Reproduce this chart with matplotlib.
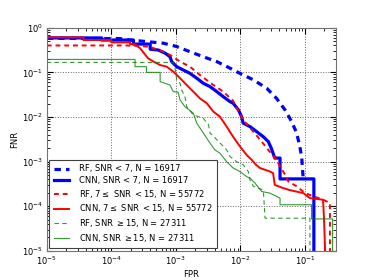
import matplotlib
matplotlib.use('Agg')
import matplotlib.pyplot as plt

# curve points (FPR, FNR)
rf_low_fpr = [1e-5, 1.36e-4, 1.95e-4, 4.0e-4, 6.4e-4, 1.02e-3, 1.65e-3, 2.65e-3,
              4.3e-3, 6.9e-3, 9.8e-3, 0.0158, 0.0255, 0.0363, 0.049, 0.062,
              0.074, 0.083, 0.089, 0.093]
rf_low_fnr = [0.58, 0.57, 0.53, 0.48, 0.45, 0.38, 0.29, 0.224,
              0.174, 0.124, 0.095, 0.068, 0.044, 0.026, 0.0144, 0.0079,
              0.0044, 0.0022, 0.0012, 4.7e-4]

cnn_low_fpr = [1e-5, 7.1e-5, 7.1e-5, 2.2e-4, 2.2e-4, 4.0e-4, 4.0e-4, 5.3e-4,
               6.8e-4, 8.1e-4, 8.6e-4, 1.03e-3, 1.3e-3, 1.65e-3, 2.1e-3,
               2.65e-3, 3.37e-3, 4.3e-3, 5.4e-3, 6.9e-3, 7.7e-3, 9.3e-3,
               0.0104, 0.011, 0.014, 0.0178, 0.0226, 0.027, 0.030, 0.034,
               0.041, 0.041, 0.137, 0.137]
cnn_low_fnr = [0.59, 0.59, 0.53, 0.53, 0.43, 0.43, 0.33, 0.317,
               0.27, 0.224, 0.174, 0.134, 0.113, 0.095, 0.074,
               0.057, 0.048, 0.037, 0.0286, 0.022, 0.0204, 0.0144,
               0.0102, 0.0073, 0.0061, 0.0047, 0.0036, 0.0028, 0.0020, 0.0012,
               0.0012, 4.1e-4, 4.1e-4, 1e-6]

rf_mid_fpr = [1e-5, 1.75e-4, 2.8e-4, 4.0e-4, 6.4e-4, 8.1e-4, 1.16e-3, 1.65e-3,
              2.36e-3, 3.8e-3, 5.4e-3, 7.7e-3, 0.011, 0.0158, 0.0213, 0.0286,
              0.036, 0.041, 0.049, 0.055, 0.074, 0.100, 0.137, 0.19, 0.243,
              0.243]
rf_mid_fnr = [0.40, 0.40, 0.39, 0.37, 0.29, 0.245, 0.174, 0.134,
              0.087, 0.052, 0.037, 0.023, 0.0086, 0.0047, 0.0028, 0.00165,
              0.0011, 7.8e-4, 5.1e-4, 3.6e-4, 2.8e-4, 1.97e-4, 1.66e-4, 1.40e-4,
              1.18e-4, 1e-6]

cnn_mid_fpr = [1e-5, 3.7e-5, 3.7e-5, 1.0e-4, 1.0e-4, 1.95e-4, 1.95e-4, 2.3e-4,
               2.8e-4, 3.7e-4, 4.5e-4, 5.7e-4, 7.2e-4, 9.1e-4, 1.16e-3, 1.47e-3,
               1.86e-3, 2.36e-3, 3.0e-3, 3.8e-3, 4.8e-3, 6.1e-3, 7.7e-3, 9.8e-3,
               0.0125, 0.0149, 0.0174, 0.020, 0.0286, 0.032, 0.034, 0.046,
               0.058, 0.094, 0.119, 0.19, 0.197, 0.216]
cnn_mid_fnr = [0.61, 0.61, 0.53, 0.53, 0.47, 0.47, 0.43, 0.43,
               0.345, 0.207, 0.174, 0.146, 0.134, 0.104, 0.074, 0.052,
               0.037, 0.026, 0.0204, 0.0132, 0.0102, 0.0061, 0.0036, 0.0022,
               0.0014, 0.0011, 8.5e-4, 7.2e-4, 6.0e-4, 5.5e-4, 3.0e-4, 2.55e-4,
               2.3e-4, 1.97e-4, 1.52e-4, 1.40e-4, 5.0e-5, 1e-6]

rf_high_fpr = [1e-5, 9.1e-4, 9.7e-4, 1.03e-3, 1.16e-3, 1.23e-3, 1.38e-3, 1.47e-3,
               1.86e-3, 2.65e-3, 3.2e-3, 3.37e-3, 4.3e-3, 6.1e-3, 6.9e-3,
               8.7e-3, 0.011, 0.0132, 0.014, 0.0158, 0.0226, 0.024, 0.119, 0.119]
rf_high_fnr = [0.167, 0.167, 0.124, 0.068, 0.057, 0.040, 0.0286, 0.017,
               0.0111, 0.0094, 0.0067, 0.0044, 0.0031, 0.00184, 0.0013,
               0.001, 8.5e-4, 6.0e-4, 3.9e-4, 2.8e-4, 2.3e-4, 5.4e-5, 5.4e-5, 1e-6]

cnn_high_fpr = [1e-5, 2.33e-4, 2.33e-4, 3.5e-4, 3.5e-4, 5.7e-4, 5.7e-4, 8.1e-4,
                9.1e-4, 1.08e-3, 1.16e-3, 1.38e-3, 1.86e-3, 2.1e-3, 2.65e-3,
                3.37e-3, 4.0e-3, 4.8e-3, 6.1e-3, 7.7e-3, 9.8e-3, 0.0125, 0.014,
                0.0168, 0.0213, 0.0286, 0.041, 0.041, 0.126, 0.126, 0.267, 0.267]
cnn_high_fnr = [0.195, 0.195, 0.134, 0.134, 0.100, 0.100, 0.062, 0.052,
                0.037, 0.036, 0.024, 0.017, 0.0122, 0.0073, 0.0044,
                0.0026, 0.00184, 0.00155, 0.001, 7.2e-4, 6.0e-4, 4.6e-4, 4.3e-4,
                3.3e-4, 2.14e-4, 1.97e-4, 1.52e-4, 1.08e-4, 1.08e-4, 5.2e-5, 5.2e-5, 1e-6]

labels = ['RF, SNR < 7, N = 16917',
          'CNN, SNR < 7, N = 16917',
          r'RF, 7$\leq$ SNR $<$15, N = 55772',
          r'CNN, 7$\leq$ SNR $<$15, N = 55772',
          r'RF, SNR $\geq$15, N = 27311',
          r'CNN, SNR $\geq$15, N = 27311']

plt.rcParams['font.size'] = 6

fig = plt.figure(figsize=(3.74, 2.8), dpi=100)
ax = fig.add_axes([0.125, 0.104, 0.773, 0.797])

ax.plot(rf_low_fpr, rf_low_fnr, color='blue', ls=(0, (2, 1.6)), lw=2.3, label=labels[0])
ax.plot(cnn_low_fpr, cnn_low_fnr, color='blue', lw=2.3, label=labels[1])
ax.plot(rf_mid_fpr, rf_mid_fnr, color='red', ls=(0, (2.5, 2)), lw=1.4, label=labels[2])
ax.plot(cnn_mid_fpr, cnn_mid_fnr, color='red', lw=1.4, label=labels[3])
ax.plot(rf_high_fpr, rf_high_fnr, color='green', ls=(0, (4, 3)), lw=0.8, alpha=0.8, label=labels[4])
ax.plot(cnn_high_fpr, cnn_high_fnr, color='green', lw=0.8, alpha=0.8, label=labels[5])

ax.set_xscale('log')
ax.set_yscale('log')
ax.set_xlim(1e-5, 0.3)
ax.set_ylim(1e-5, 1)
ax.grid(True, which='major', ls=':', color='0.4', lw=0.7)
ax.tick_params(which='both', direction='in', top=True, right=True, labelsize=6, pad=2.5)
ax.tick_params(which='major', length=4)
ax.tick_params(which='minor', length=2)
for s in ax.spines.values():
    s.set_color('0.45')
ax.set_xlabel('FPR', labelpad=2)
ax.set_ylabel('FNR', labelpad=2)

leg = ax.legend(loc='lower left', fancybox=False, framealpha=1, edgecolor='0.25',
                borderaxespad=0.3, handlelength=1.8, handletextpad=1.2,
                labelspacing=0.32, borderpad=0.55, fontsize=6)
leg.get_frame().set_linewidth(0.8)

plt.savefig('out.png', dpi=100)
